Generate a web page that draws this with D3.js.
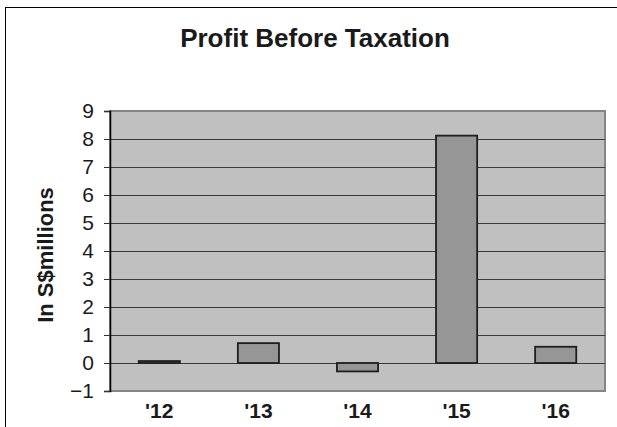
<!DOCTYPE html>
<html>
<head>
<meta charset="utf-8">
<script src="https://cdn.jsdelivr.net/npm/d3@7"></script>
<style>
  body { margin: 0; background: #fff; }
  svg { display: block; font-family: Arial, "Liberation Sans", sans-serif; }
</style>
</head>
<body>
<svg width="617" height="427"></svg>
<script>
const width = 617
const height = 427

// data
const years = ["'12", "'13", "'14", "'15", "'16"]
const profit = [0.07, 0.71, -0.3, 8.12, 0.58]
const yTicks = [-1, 0, 1, 2, 3, 4, 5, 6, 7, 8, 9]

const margin = {top: 111, right: 12, bottom: 36, left: 110}

const svg = d3.select("svg")

// outer frame
svg.append("rect")
  .attr("x", 5.5)
  .attr("y", 7.5)
  .attr("width", width)
  .attr("height", height)
  .attr("fill", "none")
  .attr("stroke", "#000")

const x = d3.scaleBand()
  .domain(years)
  .range([margin.left, width - margin.right])
  .paddingInner(0.585)
  .paddingOuter(0.29)

const y = d3.scaleLinear()
  .domain([-1, 9])
  .range([height - margin.bottom, margin.top])

// plot area
svg.append("rect")
  .attr("x", margin.left)
  .attr("y", margin.top)
  .attr("width", width - margin.right - margin.left)
  .attr("height", y(-1) - y(9))
  .attr("fill", "#c0c0c0")
  .attr("stroke", "#858585")
  .attr("stroke-width", 2)

// gridlines
svg.append("g")
  .selectAll("line")
  .data(yTicks.filter(d => d > -1 && d < 9))
  .join("line")
  .attr("x1", margin.left)
  .attr("x2", width - margin.right)
  .attr("y1", d => Math.round(y(d)) + 0.5)
  .attr("y2", d => Math.round(y(d)) + 0.5)
  .attr("stroke", "#3a3a3a")

// bars
svg.append("g")
  .selectAll("rect")
  .data(profit)
  .join("rect")
  .attr("x", (d, i) => x(years[i]))
  .attr("width", x.bandwidth())
  .attr("y", d => y(Math.max(0, d)))
  .attr("height", d => Math.abs(y(d) - y(0)))
  .attr("fill", "#969696")
  .attr("stroke", "#1e1e1e")
  .attr("stroke-width", 1.8)

// y axis
const yAxis = svg.append("g")
  .attr("transform", `translate(${margin.left},0)`)
  .call(d3.axisLeft(y).tickValues(yTicks).tickSize(6).tickPadding(10))
yAxis.select(".domain").attr("stroke", "#000").attr("stroke-width", 1.5)
yAxis.selectAll(".tick line").attr("stroke", "#333")
yAxis.selectAll("text")
  .attr("font-size", 21)
  .attr("fill", "#1a1a1a")

// x labels
svg.append("g")
  .selectAll("text")
  .data(years)
  .join("text")
  .attr("x", d => x(d) + x.bandwidth() / 2)
  .attr("y", 418)
  .attr("text-anchor", "middle")
  .attr("font-size", 21)
  .attr("font-weight", "bold")
  .attr("fill", "#1a1a1a")
  .text(d => d)

// title
svg.append("text")
  .attr("x", 315)
  .attr("y", 47)
  .attr("text-anchor", "middle")
  .attr("font-size", 26)
  .attr("font-weight", "bold")
  .attr("fill", "#1a1a1a")
  .text("Profit Before Taxation")

// y axis title
svg.append("text")
  .attr("transform", `translate(53,${(y(9) + y(-1)) / 2 + 4}) rotate(-90)`)
  .attr("text-anchor", "middle")
  .attr("font-size", 22)
  .attr("font-weight", "bold")
  .attr("fill", "#1a1a1a")
  .text("In S$millions")
</script>
</body>
</html>
